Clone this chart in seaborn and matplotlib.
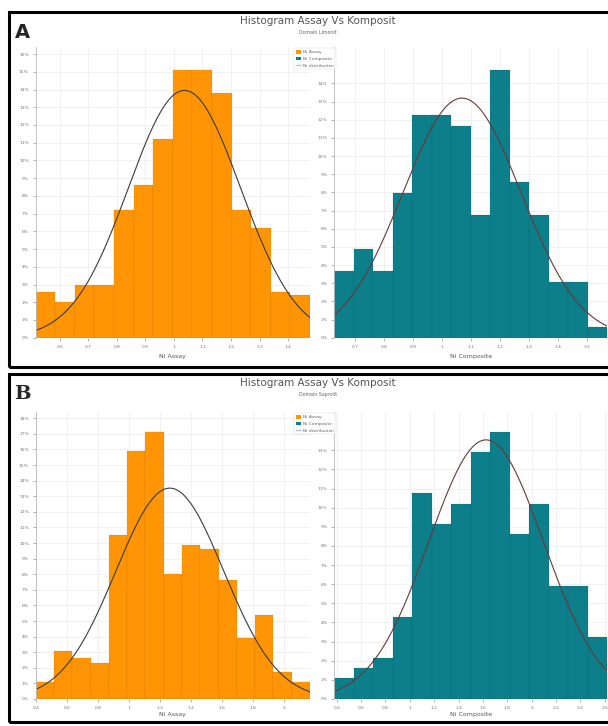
import numpy as np
import pandas as pd
import seaborn as sns
import matplotlib.pyplot as plt
from matplotlib.patches import Rectangle, Patch
from matplotlib.lines import Line2D

# Panel A (Domain Limonit): Ni assay in percent of samples, Ni composite as counts
a_assay_pct = [2.6, 2.0, 3.0, 3.0, 7.2, 8.6, 11.2, 15.1, 15.1, 13.8, 7.2, 6.2, 2.6, 2.4]
a_assay_start, a_assay_width = 0.516, 0.0686
a_assay_ticks = [0.6, 0.7, 0.8, 0.9, 1, 1.1, 1.2, 1.3, 1.4]
a_comp_counts = [6, 8, 6, 13, 20, 20, 19, 11, 24, 14, 11, 5, 5, 1]
a_comp_start, a_comp_width = 0.629, 0.0672
a_comp_ticks = [0.7, 0.8, 0.9, 1, 1.1, 1.2, 1.3, 1.4, 1.5]

# Panel B (Domain Saprolit)
b_assay_pct = [1.1, 3.1, 2.6, 2.3, 10.5, 15.9, 17.1, 8.0, 9.9, 9.6, 7.6, 3.9, 5.4, 1.7, 1.1]
b_assay_start, b_assay_width = 0.40, 0.118
b_assay_ticks = [0.4, 0.6, 0.8, 1, 1.2, 1.4, 1.6, 1.8, 2]
b_comp_counts = [2, 3, 4, 8, 20, 17, 19, 24, 26, 16, 19, 11, 11, 6]
b_comp_start, b_comp_width = 0.38, 0.16
b_comp_ticks = [0.4, 0.6, 0.8, 1, 1.2, 1.4, 1.6, 1.8, 2, 2.2, 2.4, 2.6]

title = "Histogram Assay Vs Komposit"
subtitles = ["Domain Limonit", "Domain Saprolit"]
labels = ["Ni Assay", "Ni Composite", "Ni distribution"]

ORANGE = "#ff9505"
TEAL = "#0d7f8a"

sns.set_theme(style="whitegrid")
plt.rcParams['font.family'] = ['DejaVu Sans']
plt.rcParams['grid.color'] = '#ececec'
plt.rcParams['grid.linewidth'] = 0.5

fig = plt.figure(figsize=(6.08, 7.26), dpi=100)


def draw_hist(ax, values, start, width, color, stat, ymax, yticks, xticks, xlabel, curve_color, lpad):
    values = np.asarray(values, dtype=float)
    edges = start + width * np.arange(len(values) + 1)
    centers = (edges[:-1] + edges[1:]) / 2
    df = pd.DataFrame({'x': centers, 'w': values})
    sns.histplot(data=df, x='x', weights='w', bins=list(edges), stat=stat, color=color,
                 alpha=1, linewidth=0.3, ax=ax)
    edge_col = (0.6, 0.35, 0.0, 0.3) if color == ORANGE else (0.0, 0.3, 0.3, 0.3)
    for p in ax.patches:
        p.set_edgecolor(edge_col)
    ax.set_xlim(edges[0], edges[-1])
    ax.set_ylim(0, ymax)

    # fitted normal curve, scaled to percent per bin
    w = values / values.sum()
    mu = np.sum(w * centers)
    sd = np.sqrt(np.sum(w * (centers - mu) ** 2))
    xs = np.linspace(edges[0], edges[-1], 300)
    ys = 100 * width * np.exp(-0.5 * ((xs - mu) / sd) ** 2) / (sd * np.sqrt(2 * np.pi))
    sns.lineplot(x=xs, y=ys, ax=ax, color=curve_color, lw=0.8)

    ax.set_yticks(yticks)
    ax.set_yticklabels([f"{t}%" for t in yticks])
    ax.set_xticks(xticks)
    ax.set_xticklabels([f"{t:g}" for t in xticks])
    ax.tick_params(labelsize=3.2, colors='#777777', length=2, width=0.4, pad=3,
                   left=True, bottom=True)
    ax.set_xlabel(xlabel, fontsize=4.5, color='#555555', labelpad=lpad)
    ax.set_ylabel(None)
    for s in ['top', 'right', 'bottom']:
        ax.spines[s].set_visible(False)
    ax.spines['left'].set_color('#bbbbbb')
    ax.spines['left'].set_linewidth(0.6)
    ax.set_axisbelow(True)
    ax.grid(True)


W, H = 608.0, 726.0


def box(x0, y0, x1, y1):
    return [x0 / W, 1 - y1 / H, (x1 - x0) / W, (y1 - y0) / H]


panels = [
    dict(top=12, bottom=367, ax_top=47, ax_bot=337.7, letter="A", letter_font='DejaVu Sans', lpad=4,
         assay=(a_assay_pct, a_assay_start, a_assay_width, 'count', 16.4, list(range(0, 17)), a_assay_ticks),
         comp=(a_comp_counts, a_comp_start, a_comp_width, 'percent', 16.0, list(range(0, 15)), a_comp_ticks)),
    dict(top=374, bottom=722, ax_top=412, ax_bot=699, letter="B", letter_font='DejaVu Serif', lpad=1.5,
         assay=(b_assay_pct, b_assay_start, b_assay_width, 'count', 18.4, list(range(0, 19)), b_assay_ticks),
         comp=(b_comp_counts, b_comp_start, b_comp_width, 'percent', 15.0, list(range(0, 14)), b_comp_ticks)),
]

for i, pn in enumerate(panels):
    ax1 = fig.add_axes(box(35.7, pn['ax_top'], 310, pn['ax_bot']))
    ax2 = fig.add_axes(box(334.3, pn['ax_top'], 607.3, pn['ax_bot']))
    v, s, w, st, ym, yt, xt = pn['assay']
    draw_hist(ax1, v, s, w, ORANGE, st, ym, yt, xt, labels[0], '#3b3b3b', pn['lpad'])
    v, s, w, st, ym, yt, xt = pn['comp']
    draw_hist(ax2, v, s, w, TEAL, st, ym, yt, xt, labels[1], '#6a3838', pn['lpad'])

    # frame around the panel
    fig.patches.append(Rectangle((9 / W, 1 - pn['bottom'] / H), 1.1, (pn['bottom'] - pn['top']) / H,
                                 transform=fig.transFigure, fill=False, lw=2.2, ec='black'))
    fig.text(22 / W, 1 - (pn['top'] + 20) / H, pn['letter'], fontsize=14, fontweight='bold',
             family=pn['letter_font'], ha='center', va='center')
    fig.text(318 / W, 1 - (pn['top'] + 8.5) / H, title, fontsize=7.5, color='#555555',
             ha='center', va='center')
    fig.text(318 / W, 1 - (pn['top'] + 20.5) / H, subtitles[i], fontsize=3.4, color='#666666',
             ha='center', va='center')

    handles = [Patch(facecolor=ORANGE, edgecolor='none'),
               Patch(facecolor=TEAL, edgecolor='none'),
               Line2D([0], [0], color='#b5c3dc', lw=1)]
    leg = fig.legend(handles, labels, loc='upper left',
                     bbox_to_anchor=(292 / W, 1 - (pn['ax_top'] - 1) / H),
                     fontsize=3.2, frameon=True, handlelength=1.2, handleheight=0.9,
                     borderpad=0.4, labelspacing=0.5, handletextpad=0.4)
    leg.get_frame().set_linewidth(0.3)
    leg.get_frame().set_edgecolor('#cccccc')
    for t in leg.get_texts():
        t.set_color('#666666')

fig.savefig("out.png", dpi=100)
